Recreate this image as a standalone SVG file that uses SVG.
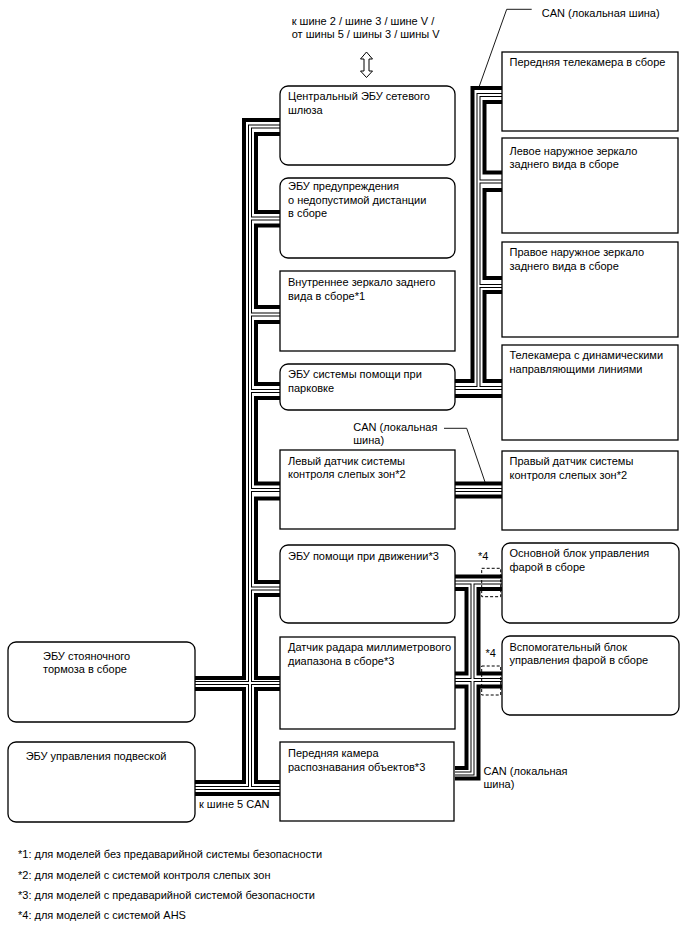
<svg xmlns="http://www.w3.org/2000/svg" xmlns:xlink="http://www.w3.org/1999/xlink" width="688" height="949" viewBox="0 0 688 949">
<style>
.box{fill:#fff;stroke:#000;stroke-width:1.3}
.t{font-family:"Liberation Sans",Arial,sans-serif;font-size:11px;fill:#000}
.thick{fill:none;stroke:#000;stroke-width:4;stroke-linejoin:miter;stroke-linecap:butt}
.hol{fill:none;stroke:#000;stroke-width:4;stroke-linejoin:miter;stroke-linecap:butt}
.holw{fill:none;stroke:#fff;stroke-width:2;stroke-linejoin:miter;stroke-linecap:butt}
.lead{fill:none;stroke:#000;stroke-width:0.9}
.dash{fill:none;stroke:#000;stroke-width:1;stroke-dasharray:3 2}
</style>
<defs>
<path id="hollow" d="M280,126.5 H250 V788 M250,218.5 H280 M250,314.5 H280 M250,391 H280 M250,490 H280 M250,588.5 H280 M195,683 H280 M195,788 H280 M502,95 H478.5 V388 M478.5,181.5 H502 M478.5,286 H502 M455,388 H502 M455,490 H502 M455,582.5 H502 M472.5,582.5 V773.5 H455 M455,680 H502"/>
</defs>
<g id="connectors">
<path class="thick" d="M280,120 H244 V678 H195 M195,689 H244 V782 H195 M195,794 H280"/>
<path class="thick" d="M280,134 H256 V212 H280 M280,225.5 H256 V307 H280 M280,322 H256 V384 H280 M280,398 H256 V483.5 H280 M280,498.5 H256 V582 H280 M280,595 H256 V678 H280 M280,689 H256 V782 H280"/>
<path class="thick" d="M502,88 H472.5 V381 H455 M502,102 H484.5 V172.5 H502 M502,190 H484.5 V278 H502 M502,292 H484.5 V381 H502 M455,396 H502"/>
<path class="thick" d="M455,483.5 H502 M455,496.5 H502"/>
<path class="thick" d="M502,576.5 H455 M455,589 H466.5 V673.5 H455 M455,686.5 H466.5 V768 H455 M502,589 H478.5 V673.5 H502 M502,686.5 H478.5 V778.5 H455"/>
<use xlink:href="#hollow" class="hol"/>
<use xlink:href="#hollow" class="holw"/>
<polyline class="lead" points="531.7,9.3 506.7,9.3 478.3,89"/>
<polyline class="lead" points="444,428.3 466.7,428.3 485,482"/>
<rect class="dash" x="481.7" y="568.3" width="19" height="28.4"/>
<rect class="dash" x="481.7" y="666" width="19" height="29"/>
<polygon points="366.5,52 372.5,59 369,59 369,71 372.5,71 366.5,77.5 360.5,71 364,71 364,59 360.5,59" fill="#fff" stroke="#000" stroke-width="1"/>
</g>
<g id="labels">
<text class="t" x="291.7" y="24.5">к шине 2 / шине 3 / шине V /</text>
<text class="t" x="291.7" y="38">от шины 5 / шины 3 / шины V</text>
<text class="t" x="541.7" y="17">CAN (локальная шина)</text>
<text class="t" x="353.3" y="430.5">CAN (локальная</text>
<text class="t" x="353.3" y="444">шина)</text>
<text class="t" x="483.5" y="774.5">CAN (локальная</text>
<text class="t" x="483.5" y="787.5">шина)</text>
<text class="t" x="199" y="808">к шине 5 CAN</text>
<text class="t" x="478" y="559.5">*4</text>
<text class="t" x="485.5" y="657">*4</text>
</g>
<g id="gateway"><rect class="box" x="280" y="86" width="175" height="79" rx="8"/><text class="t" x="288" y="100">Центральный ЭБУ сетевого</text><text class="t" x="288" y="113.5">шлюза</text></g>
<g id="distance"><rect class="box" x="280" y="178" width="175" height="80" rx="8"/><text class="t" x="288" y="190">ЭБУ предупреждения</text><text class="t" x="288" y="203.5">о недопустимой дистанции</text><text class="t" x="288" y="217">в сборе</text></g>
<g id="innermirror"><rect class="box" x="280" y="271" width="175" height="80"/><text class="t" x="288" y="286">Внутреннее зеркало заднего</text><text class="t" x="288" y="299.5">вида в сборе*1</text></g>
<g id="parking"><rect class="box" x="280" y="364" width="175" height="46" rx="8"/><text class="t" x="288" y="378">ЭБУ системы помощи при</text><text class="t" x="288" y="391.5">парковке</text></g>
<g id="bsleft"><rect class="box" x="280" y="450" width="175" height="79"/><text class="t" x="288" y="464.5">Левый датчик системы</text><text class="t" x="288" y="478">контроля слепых зон*2</text></g>
<g id="driveassist"><rect class="box" x="280" y="545" width="175" height="78" rx="8"/><text class="t" x="288" y="559.5">ЭБУ помощи при движении*3</text></g>
<g id="radar"><rect class="box" x="280" y="637" width="175" height="92"/><text class="t" x="288" y="651">Датчик радара миллиметрового</text><text class="t" x="288" y="664.5">диапазона в сборе*3</text></g>
<g id="frontcam"><rect class="box" x="280" y="742" width="174" height="79"/><text class="t" x="288" y="757">Передняя камера</text><text class="t" x="288" y="770.5">распознавания объектов*3</text></g>
<g id="fronttv"><rect class="box" x="502" y="52" width="176" height="79"/><text class="t" x="509.5" y="66">Передняя телекамера в сборе</text></g>
<g id="leftmirror"><rect class="box" x="502" y="138" width="176" height="95"/><text class="t" x="509.5" y="154.5">Левое наружное зеркало</text><text class="t" x="509.5" y="168">заднего вида в сборе</text></g>
<g id="rightmirror"><rect class="box" x="502" y="242" width="176" height="95"/><text class="t" x="509.5" y="256">Правое наружное зеркало</text><text class="t" x="509.5" y="269.5">заднего вида в сборе</text></g>
<g id="dyncam"><rect class="box" x="502" y="345" width="176" height="95"/><text class="t" x="509.5" y="359">Телекамера с динамическими</text><text class="t" x="509.5" y="372.5">направляющими линиями</text></g>
<g id="bsright"><rect class="box" x="502" y="451" width="176" height="79"/><text class="t" x="509.5" y="465">Правый датчик системы</text><text class="t" x="509.5" y="478.5">контроля слепых зон*2</text></g>
<g id="headmain"><rect class="box" x="502" y="543" width="177" height="80" rx="8"/><text class="t" x="509.5" y="557">Основной блок управления</text><text class="t" x="509.5" y="570.5">фарой в сборе</text></g>
<g id="headsub"><rect class="box" x="502" y="636" width="177" height="79" rx="8"/><text class="t" x="509.5" y="650.5">Вспомогательный блок</text><text class="t" x="509.5" y="664">управления фарой в сборе</text></g>
<g id="parkbrake"><rect class="box" x="8" y="642" width="187" height="80" rx="8"/><text class="t" x="43" y="659.5">ЭБУ стояночного</text><text class="t" x="43" y="673">тормоза в сборе</text></g>
<g id="suspension"><rect class="box" x="8" y="742" width="187" height="80" rx="8"/><text class="t" x="25.7" y="759.5">ЭБУ управления подвеской</text></g>
<g id="notes">
<text class="t" x="18" y="858">*1: для моделей без предаварийной системы безопасности</text>
<text class="t" x="18" y="878.5">*2: для моделей с системой контроля слепых зон</text>
<text class="t" x="18" y="898.5">*3: для моделей с предаварийной системой безопасности</text>
<text class="t" x="18" y="918.5">*4: для моделей с системой AHS</text>
</g>
</svg>
